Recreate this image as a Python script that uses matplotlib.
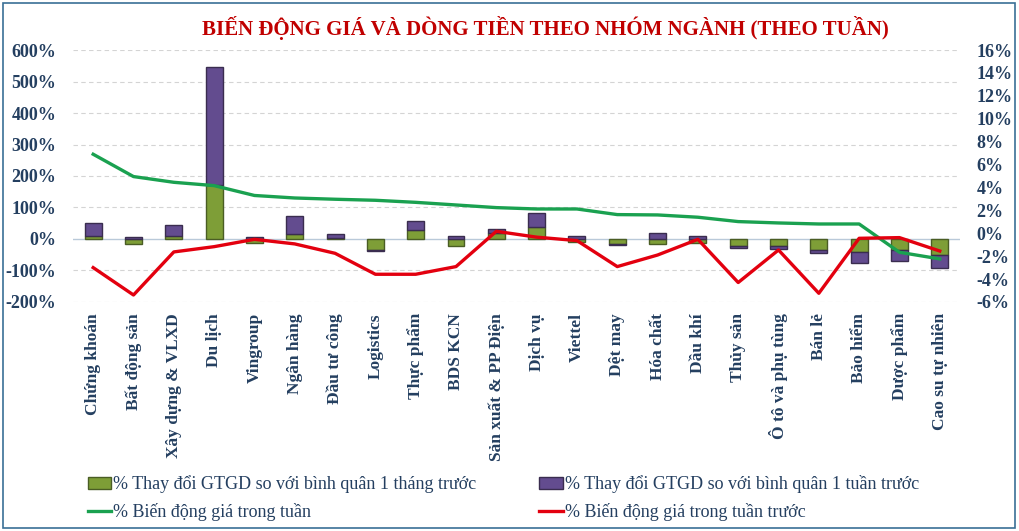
import matplotlib.pyplot as plt
import numpy as np
from matplotlib.patches import Rectangle
from matplotlib.lines import Line2D

sectors = ["Chứng khoán", "Bất động sản", "Xây dựng & VLXD", "Du lịch", "Vingroup",
           "Ngân hàng", "Đầu tư công", "Logistics", "Thực phẩm", "BDS KCN",
           "Sản xuất & PP Điện", "Dịch vụ", "Viettel", "Dệt may", "Hóa chất",
           "Dầu khí", "Thủy sản", "Ô tô và phụ tùng", "Bán lẻ", "Bảo hiểm",
           "Dược phẩm", "Cao su tự nhiên"]
# % thay đổi GTGD (trục trái)
gtgd_1thang = [8, -15, 10, 170, -14, 15, 2, -34, 29, -23, 19, 39, -10, -16, -16,
               -12, -23, -23, -34, -42, -34, -50]
gtgd_1tuan = [43, 6, 35, 376, 6, 58, 13, -5, 29, 10, 12, 42, 10, -3, 19,
              9, -6, -8, -11, -35, -37, -42]
# % biến động giá (trục phải)
gia_tuan = [6.9, 4.95, 4.45, 4.16, 3.3, 3.08, 2.97, 2.88, 2.7, 2.47, 2.24, 2.12,
            2.12, 1.63, 1.6, 1.4, 1.02, 0.9, 0.81, 0.81, -1.66, -2.24]
gia_tuan_truoc = [-3.0, -5.39, -1.63, -1.17, -0.53, -0.93, -1.75, -3.58, -3.58, -2.91,
                  0.17, -0.34, -0.64, -2.91, -1.9, -0.53, -4.3, -1.46, -5.24, -0.44,
                  -0.38, -1.55]

navy = "#243f60"
green_bar = "#7e9e37"
purple_bar = "#634c8f"
serif = ["Liberation Serif", "DejaVu Serif"]
plt.rcParams["font.family"] = serif

fig = plt.figure(figsize=(10.2, 5.31), dpi=100)
ax = fig.add_axes([0.0716, 0.4313, 0.8695, 0.4745])
ax2 = ax.twinx()

x = np.arange(len(sectors))
g = np.array(gtgd_1thang, dtype=float)
p = np.array(gtgd_1tuan, dtype=float)
p_bottom = np.where(np.sign(p) == np.sign(g), g, 0)

w = 0.42
ax.bar(x, g, w, color=green_bar, edgecolor="#4a5d24", linewidth=1.0, zorder=3)
ax.bar(x, p, w, bottom=p_bottom, color=purple_bar, edgecolor="#3a2d4f", linewidth=1.0, zorder=3)

ax.set_ylim(-200, 600)
ax.set_yticks(np.arange(-200, 601, 100))
ax.set_yticklabels([f"{v}%" for v in range(-200, 601, 100)])
ax.set_xlim(-0.5, len(sectors) - 0.5)
ax.set_xticks(x)
ax.set_xticklabels(sectors, rotation=90, fontsize=12.5, fontweight="bold", color=navy)
for v in range(-200, 601, 100):
    if v == 0:
        ax.axhline(0, color="#b9c9d9", lw=1.0, zorder=1)
    else:
        ax.axhline(v, color="#d4d4d4", lw=0.8, ls=(0, (4, 3)), zorder=1)

ax2.plot(x, gia_tuan, color="#1aa150", lw=2.4, zorder=5)
ax2.plot(x, gia_tuan_truoc, color="#e3000f", lw=2.4, zorder=5)
ax2.set_ylim(-6, 16)
ax2.set_yticks(np.arange(-6, 17, 2))
ax2.set_yticklabels([f"{v}%" for v in range(-6, 17, 2)])

for a in (ax, ax2):
    for s in a.spines.values():
        s.set_visible(False)
    a.tick_params(length=0, labelsize=13, labelcolor=navy)
    for t in a.get_yticklabels():
        t.set_fontweight("bold")
ax.tick_params(axis="y", pad=12)
ax.tick_params(axis="x", pad=8, labelsize=12.5)
ax2.tick_params(axis="y", pad=12)

fig.text(0.535, 0.947, "BIẾN ĐỘNG GIÁ VÀ DÒNG TIỀN THEO NHÓM NGÀNH (THEO TUẦN)",
         ha="center", va="center", fontsize=15, fontweight="bold", color="#c00000")

handles = [Rectangle((0, 0), 1, 1, facecolor=green_bar, edgecolor="#4a5d24"),
           Line2D([], [], color="#1aa150", lw=2.4),
           Rectangle((0, 0), 1, 1, facecolor=purple_bar, edgecolor="#3a2d4f"),
           Line2D([], [], color="#e3000f", lw=2.4)]
labels = ["% Thay đổi GTGD so với bình quân 1 tháng trước", "% Biến động giá trong tuần",
          "% Thay đổi GTGD so với bình quân 1 tuần trước", "% Biến động giá trong tuần trước"]
fig.legend(handles, labels, ncol=2, loc="lower left", bbox_to_anchor=(0.07, -0.012),
           frameon=False, fontsize=13, handlelength=1.3, handletextpad=0.1,
           columnspacing=3.5, labelcolor=navy, labelspacing=0.55)

fig.patches.append(Rectangle((0.003, 0.005), 0.992, 0.99, transform=fig.transFigure,
                             fill=False, edgecolor="#3a6f96", lw=1.2))

fig.savefig("out.png", dpi=100)
